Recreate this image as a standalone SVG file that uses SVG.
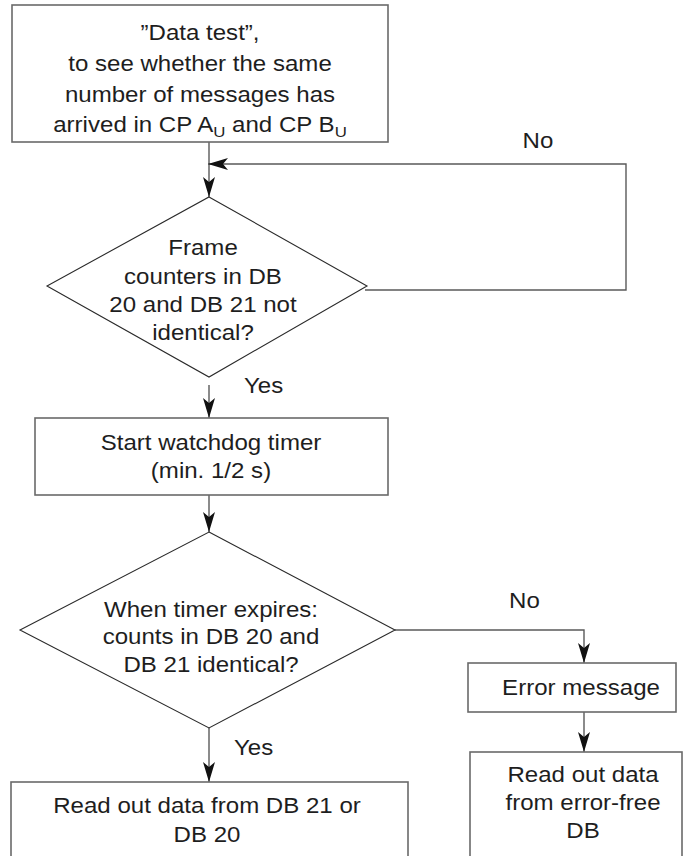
<svg xmlns="http://www.w3.org/2000/svg" width="684" height="856" viewBox="0 0 684 856">
  <style>
    .box { fill: #ffffff; stroke: #6a6a6a; stroke-width: 1.6; }
    .dia { fill: #ffffff; stroke: #2a2a2a; stroke-width: 1.1; }
    .wire { fill: none; stroke: #5a5a5a; stroke-width: 1.4; }
    .lbl { font-family: "Liberation Sans", Arial, Helvetica, sans-serif; font-size: 21.5px; fill: #1e1e1e; text-anchor: middle; }
    .tag { font-family: "Liberation Sans", Arial, Helvetica, sans-serif; font-size: 21.5px; fill: #1e1e1e; text-anchor: start; }
  </style>
  <defs>
    <marker id="arrow" viewBox="0 0 20 12" refX="20" refY="6" markerWidth="20" markerHeight="12" markerUnits="userSpaceOnUse" orient="auto">
      <path d="M0,0 L20,6 L0,12 L5,6 Z" fill="#111111"/>
    </marker>
  </defs>

  <rect width="684" height="856" fill="#ffffff"/>

  <!-- connectors -->
  <g id="connectors">
    <path class="wire" d="M209,142 V197" marker-end="url(#arrow)"/>
    <path class="wire" d="M365,290 H626 V164 H208" marker-end="url(#arrow)"/>
    <path class="wire" d="M209,385 V418" marker-end="url(#arrow)"/>
    <path class="wire" d="M209,495 V532" marker-end="url(#arrow)"/>
    <path class="wire" d="M209,728 V782" marker-end="url(#arrow)"/>
    <path class="wire" d="M395,630 H584 V663" marker-end="url(#arrow)"/>
    <path class="wire" d="M584,712 V752" marker-end="url(#arrow)"/>
  </g>

  <!-- branch labels -->
  <g id="labels">
    <g transform="translate(538,0) scale(1.12,1)"><text class="lbl" x="0" y="148">No</text></g>
    <g transform="translate(244,0) scale(1.12,1)"><text class="tag" x="0" y="393">Yes</text></g>
    <g transform="translate(509,0) scale(1.12,1)"><text class="tag" x="0" y="608">No</text></g>
    <g transform="translate(234,0) scale(1.12,1)"><text class="tag" x="0" y="755">Yes</text></g>
  </g>

  <g id="data-test">
    <rect class="box" x="12" y="5" width="376" height="137"/>
    <g transform="translate(200,0) scale(1.12,1)">
      <text class="lbl" x="0" y="40">”Data test”,</text>
      <text class="lbl" x="0" y="71.5">to see whether the same</text>
      <text class="lbl" x="0" y="102">number of messages has</text>
      <text class="lbl" x="0" y="132">arrived in CP A<tspan font-size="15" dy="5">U</tspan><tspan dy="-5"> and CP B</tspan><tspan font-size="15" dy="5">U</tspan></text>
    </g>
  </g>

  <g id="frame-check">
    <polygon class="dia" points="209,197 367,286 209,377 47,286"/>
    <g transform="translate(203,0) scale(1.12,1)">
      <text class="lbl" x="0" y="255">Frame</text>
      <text class="lbl" x="0" y="284">counters in DB</text>
      <text class="lbl" x="0" y="312.5">20 and DB 21 not</text>
      <text class="lbl" x="0" y="340">identical?</text>
    </g>
  </g>

  <g id="watchdog">
    <rect class="box" x="35" y="418" width="353" height="77"/>
    <g transform="translate(211,0) scale(1.12,1)">
      <text class="lbl" x="0" y="450">Start watchdog timer</text>
      <text class="lbl" x="0" y="478">(min. 1/2 s)</text>
    </g>
  </g>

  <g id="count-check">
    <polygon class="dia" points="209,532 395,630 209,728 20,630"/>
    <g transform="translate(211,0) scale(1.12,1)">
      <text class="lbl" x="0" y="617">When timer expires:</text>
      <text class="lbl" x="0" y="644">counts in DB 20 and</text>
      <text class="lbl" x="0" y="672">DB 21 identical?</text>
    </g>
  </g>

  <g id="read-db">
    <rect class="box" x="11" y="782" width="397" height="90"/>
    <g transform="translate(207,0) scale(1.12,1)">
      <text class="lbl" x="0" y="813">Read out data from DB 21 or</text>
      <text class="lbl" x="0" y="842">DB 20</text>
    </g>
  </g>

  <g id="error-message">
    <rect class="box" x="468" y="663" width="208" height="49"/>
    <g transform="translate(581,0) scale(1.12,1)">
      <text class="lbl" x="0" y="695">Error message</text>
    </g>
  </g>

  <g id="read-error-free">
    <rect class="box" x="470" y="752" width="212" height="120"/>
    <g transform="translate(583,0) scale(1.12,1)">
      <text class="lbl" x="0" y="782">Read out data</text>
      <text class="lbl" x="0" y="810">from error-free</text>
      <text class="lbl" x="0" y="838">DB</text>
    </g>
  </g>
</svg>
